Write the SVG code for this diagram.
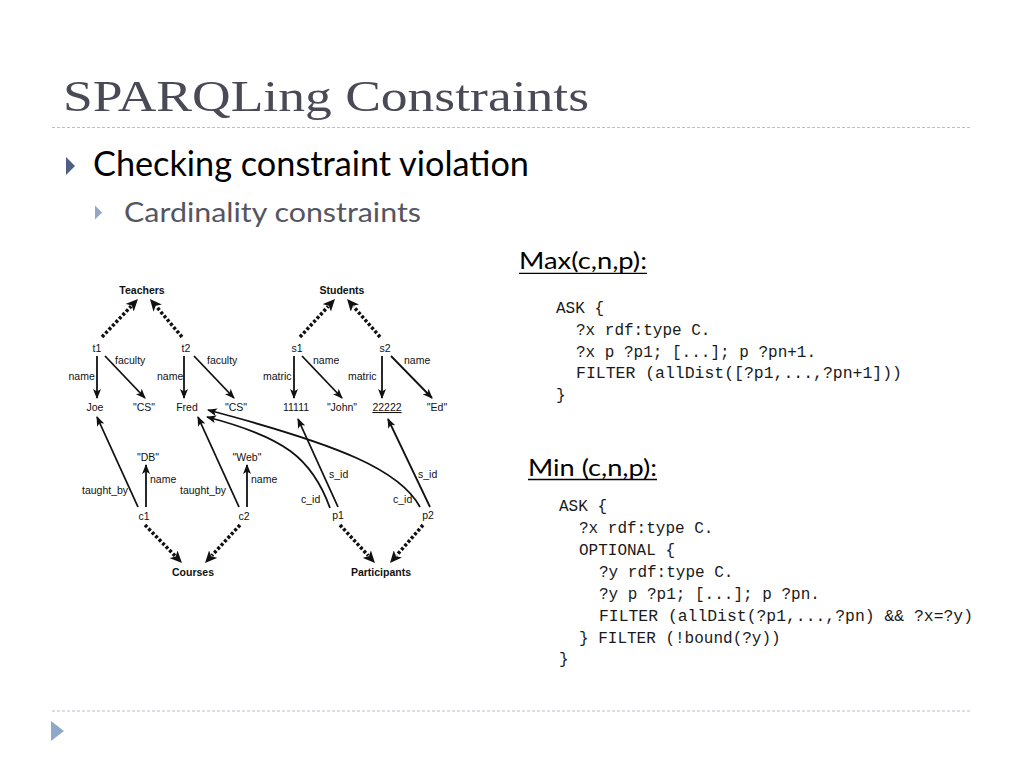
<svg xmlns="http://www.w3.org/2000/svg" width="1024" height="768" viewBox="0 0 1024 768">
<defs>
<style>
.title{font-family:"Liberation Serif","DejaVu Serif",serif;font-size:44px;fill:#4a4a56}
.b1{font-family:Lato,"Open Sans",sans-serif;font-size:34px;fill:#000}
.b2{font-family:Lato,"Open Sans",sans-serif;font-size:27px;fill:#55555f}
.hd{font-family:Lato,"Open Sans",sans-serif;font-size:23px;fill:#000}
.code{font-family:"Liberation Mono","DejaVu Sans Mono",monospace;font-size:16px;fill:#1a1a1a;white-space:pre}
.g{font-family:"Liberation Sans",Arial,sans-serif;font-size:10.5px;fill:#111}
.n{text-anchor:middle}
.gb{font-family:"Liberation Sans",Arial,sans-serif;font-size:10.5px;font-weight:bold;fill:#111;text-anchor:middle}
.sep{stroke:#b4c0cc;stroke-width:1;stroke-dasharray:3 2;fill:none}
.e{stroke:#111;stroke-width:1.8;fill:none;marker-end:url(#arr)}
.d{stroke:#111;stroke-width:3.5;stroke-dasharray:3 2;fill:none;marker-end:url(#darr)}
</style>
<marker id="arr" viewBox="0 0 10 8" markerWidth="10" markerHeight="8" refX="9" refY="4" orient="auto" markerUnits="userSpaceOnUse">
<path d="M0,0 L10,4 L0,8 L2.5,4 z" fill="#111"/>
</marker>
<marker id="darr" viewBox="0 0 12 11" markerWidth="12" markerHeight="11" refX="2" refY="5.5" orient="auto" markerUnits="userSpaceOnUse">
<path d="M0,0 L12,5.5 L0,11 L3,5.5 z" fill="#111"/>
</marker>
</defs>
<rect width="1024" height="768" fill="#fff"/>

<text class="title" x="63" y="111" textLength="526" lengthAdjust="spacingAndGlyphs">SPARQLing Constraints</text>
<line class="sep" x1="52" y1="127.5" x2="972" y2="127.5"/>
<path d="M66,157 L75,166 L66,175 z" fill="#4f5e86"/>
<text class="b1" x="93" y="176" textLength="436" lengthAdjust="spacingAndGlyphs">Checking constraint violation</text>
<path d="M95,205.5 L102,212.5 L95,219.5 z" fill="#93a7c4"/>
<text class="b2" x="124" y="221.5" textLength="297" lengthAdjust="spacingAndGlyphs">Cardinality constraints</text>
<line class="sep" x1="52" y1="711" x2="972" y2="711"/>
<path d="M51,721 L64,731 L51,741 z" fill="#8fa8c8"/>

<g id="max-heading">
<text class="hd" x="519" y="269" textLength="128" lengthAdjust="spacingAndGlyphs">Max(c,n,p):</text>
<line x1="519" y1="273.3" x2="647" y2="273.3" stroke="#000" stroke-width="1.3"/>
</g>
<g id="max-code">
<text class="code" x="556" y="313">ASK {</text>
<text class="code" x="576" y="335">?x rdf:type C.</text>
<text class="code" x="576" y="356.5">?x p ?p1; [...]; p ?pn+1.</text>
<text class="code" x="576" y="378" textLength="326" lengthAdjust="spacingAndGlyphs">FILTER (allDist([?p1,...,?pn+1]))</text>
<text class="code" x="556" y="400">}</text>
</g>
<g id="min-heading">
<text class="hd" x="528" y="476" textLength="129" lengthAdjust="spacingAndGlyphs">Min (c,n,p):</text>
<line x1="528" y1="479.5" x2="657" y2="479.5" stroke="#000" stroke-width="1.3"/>
</g>
<g id="min-code">
<text class="code" x="559" y="511">ASK {</text>
<text class="code" x="579" y="533">?x rdf:type C.</text>
<text class="code" x="579" y="555">OPTIONAL {</text>
<text class="code" x="599" y="577">?y rdf:type C.</text>
<text class="code" x="599" y="599">?y p ?p1; [...]; p ?pn.</text>
<text class="code" x="599" y="621" textLength="374" lengthAdjust="spacingAndGlyphs">FILTER (allDist(?p1,...,?pn) &amp;&amp; ?x=?y)</text>
<text class="code" x="579" y="642.5">} FILTER (!bound(?y))</text>
<text class="code" x="559" y="664">}</text>
</g>

<g id="connectors">
<path class="d" d="M102,337 L131.1,306.3"/>
<path class="d" d="M182,337 L156.4,306.6"/>
<path class="d" d="M300,337 L328.2,306.4"/>
<path class="d" d="M380,337 L353.6,306.6"/>
<path class="d" d="M145,525 L175,555.8"/>
<path class="d" d="M240,525 L211.8,555.6"/>
<path class="d" d="M340,525 L368.2,555.6"/>
<path class="d" d="M423,525 L396.6,555.4"/>

<path class="e" d="M97,356 L97,398"/>
<path class="e" d="M105,356 L145,398"/>
<path class="e" d="M184,356 L184,398"/>
<path class="e" d="M194,356 L234,398"/>
<path class="e" d="M294,356 L294,398"/>
<path class="e" d="M302,356 L342,398"/>
<path class="e" d="M382,356 L382,398"/>
<path class="e" d="M391,356 L432,398"/>
<path class="e" d="M138,507 L97,417"/>
<path class="e" d="M146,507 L146,465"/>
<path class="e" d="M239,507 L198,417"/>
<path class="e" d="M247,507 L247,465"/>
<path class="e" d="M338,507 L298,419"/>
<path class="e" d="M430,507 L388,419"/>
<path class="e" d="M330,508 C312,458 284,437 207,417"/>
<path class="e" d="M420,507 C400,470 340,445 208,410"/>

<text class="g" x="68.5" y="380">name</text>
<text class="g" x="115" y="364">faculty</text>
<text class="g" x="157" y="380">name</text>
<text class="g" x="207" y="364">faculty</text>
<text class="g" x="263" y="380">matric</text>
<text class="g" x="313" y="364">name</text>
<text class="g" x="348" y="380">matric</text>
<text class="g" x="404" y="364">name</text>
<text class="g" x="82" y="494">taught_by</text>
<text class="g" x="150" y="483">name</text>
<text class="g" x="180" y="494">taught_by</text>
<text class="g" x="251" y="483">name</text>
<text class="g" x="329" y="478">s_id</text>
<text class="g" x="301" y="503">c_id</text>
<text class="g" x="418" y="478">s_id</text>
<text class="g" x="393" y="503">c_id</text>
</g>

<g id="Teachers"><text class="gb" x="142" y="294">Teachers</text></g>
<g id="Students"><text class="gb" x="342" y="294">Students</text></g>
<g id="Courses"><text class="gb" x="193" y="576">Courses</text></g>
<g id="Participants"><text class="gb" x="381" y="576">Participants</text></g>
<g id="t1"><text class="g n" x="97" y="352">t1</text></g>
<g id="t2"><text class="g n" x="186" y="352">t2</text></g>
<g id="s1"><text class="g n" x="297" y="352">s1</text></g>
<g id="s2"><text class="g n" x="385" y="352">s2</text></g>
<g id="Joe"><text class="g n" x="95" y="411">Joe</text></g>
<g id="CS1"><text class="g n" x="144" y="411">"CS"</text></g>
<g id="Fred"><text class="g n" x="187" y="411">Fred</text></g>
<g id="CS2"><text class="g n" x="236" y="411">"CS"</text></g>
<g id="n11111"><text class="g n" x="296" y="411">11111</text></g>
<g id="John"><text class="g n" x="342" y="411">"John"</text></g>
<g id="n22222"><text class="g n" x="387" y="411" text-decoration="underline">22222</text></g>
<g id="Ed"><text class="g n" x="437" y="411">"Ed"</text></g>
<g id="DB"><text class="g n" x="148" y="461">"DB"</text></g>
<g id="Web"><text class="g n" x="247" y="461">"Web"</text></g>
<g id="c1"><text class="g n" x="144" y="520">c1</text></g>
<g id="c2"><text class="g n" x="244" y="520">c2</text></g>
<g id="p1"><text class="g n" x="338" y="519">p1</text></g>
<g id="p2"><text class="g n" x="428" y="519">p2</text></g>
</svg>
